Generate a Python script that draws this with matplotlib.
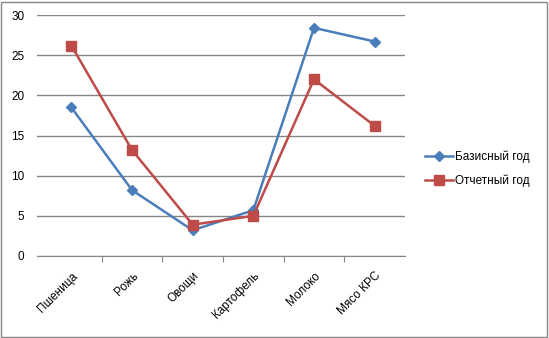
import matplotlib.pyplot as plt
from matplotlib.patches import Rectangle

# products and production figures for two years
categories = ['Пшеница', 'Рожь', 'Овощи', 'Картофель', 'Молоко', 'Мясо КРС']
base_year = [18.5, 8.2, 3.2, 5.7, 28.4, 26.7]
report_year = [26.2, 13.2, 3.9, 5.0, 22.0, 16.2]
yticks = [0, 5, 10, 15, 20, 25, 30]

plt.rcParams['font.family'] = ['Liberation Sans', 'DejaVu Sans']

fig = plt.figure(figsize=(5.49, 3.38), dpi=100)
W, H = 549, 338
ax = fig.add_axes([37 / W, (H - 256) / H, (405 - 37) / W, (256 - 15) / H])

x = range(len(categories))
ax.plot(x, base_year, color='#4A7EBB', lw=1.8, marker='D', ms=5,
        label='Базисный год')
ax.plot(x, report_year, color='#BE4B48', lw=1.8, marker='s', ms=7,
        label='Отчетный год')

ax.set_ylim(0, 30)
ax.set_xlim(-0.566, len(categories) - 0.5)
ax.set_yticks(yticks)
ax.yaxis.grid(True, color='#868686', lw=1)
ax.set_axisbelow(True)
for s in ['top', 'right', 'left']:
    ax.spines[s].set_visible(False)
ax.spines['bottom'].set_color('#868686')
ax.tick_params(axis='y', length=0, pad=9, labelsize=8.5, colors='#000000')

# category ticks sit between the points, labels under each point
ax.set_xticks([i + 0.5 for i in range(len(categories) - 1)])
ax.set_xticklabels([])
ax.tick_params(axis='x', which='major', length=4, color='#868686', direction='out')
ax.set_xticks(list(x), minor=True)
ax.set_xticklabels(categories, minor=True, rotation=45, ha='right',
                   rotation_mode='anchor', fontsize=8.5)
ax.tick_params(axis='x', which='minor', length=0, pad=10)

fig.legend(loc='center left', bbox_to_anchor=(414 / W, 1 - 169 / H),
           frameon=False, fontsize=8.5, handlelength=2.4, handletextpad=0.15,
           labelspacing=1.0)

# chart outline
fig.patches.append(Rectangle((1 / W, 1.5 / H), 546 / W, 335 / H,
                             transform=fig.transFigure, fill=False,
                             edgecolor='#868686', lw=1))

fig.savefig('out.png', dpi=100)
